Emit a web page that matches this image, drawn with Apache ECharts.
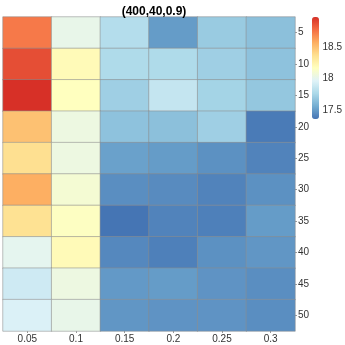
<!DOCTYPE html>
<html>
<head>
<meta charset="utf-8">
<script src="https://cdn.jsdelivr.net/npm/echarts@6/dist/echarts.min.js"></script>
<style>
html, body { margin: 0; padding: 0; background: #fff; }
#panel { width: 345px; height: 345px; }
</style>
</head>
<body>
<div id="panel"></div>
<script>
var xLabels = ['0.05', '0.1', '0.15', '0.2', '0.25', '0.3'];
var yLabels = ['5', '10', '15', '20', '25', '30', '35', '40', '45', '50'];
// one row per y label, one value per x label
var row5  = [18.74, 18.02, 17.80, 17.50, 17.70, 17.65];
var row10 = [18.88, 18.20, 17.78, 17.78, 17.72, 17.66];
var row15 = [18.98, 18.17, 17.72, 17.86, 17.74, 17.68];
var row20 = [18.50, 18.05, 17.66, 17.65, 17.72, 17.38];
var row25 = [18.37, 18.05, 17.52, 17.50, 17.46, 17.41];
var row30 = [18.57, 18.10, 17.45, 17.44, 17.41, 17.46];
var row35 = [18.36, 18.16, 17.36, 17.41, 17.40, 17.50];
var row40 = [18.00, 18.20, 17.43, 17.40, 17.46, 17.48];
var row45 = [17.90, 18.05, 17.49, 17.50, 17.47, 17.45];
var row50 = [17.95, 18.02, 17.48, 17.47, 17.47, 17.45];
var legendTicks = [17.5, 18, 18.5];
var vMin = 17.36, vMax = 18.98;

var rows = [row5, row10, row15, row20, row25, row30, row35, row40, row45, row50];
var cells = [];
rows.forEach(function (r, yi) {
    r.forEach(function (v, xi) { cells.push([xi, yi, v]); });
});

var palette = ['#4575b4', '#74add1', '#abd9e9', '#e0f3f8', '#ffffbf',
               '#fee090', '#fdae61', '#f46d43', '#d73027'];
var font = 'Liberation Sans';

var myChart = echarts.init(document.getElementById('panel'));
myChart.setOption({
    backgroundColor: '#fff',
    animation: false,
    title: {
        text: '(400,40,0.9)',
        left: 149, top: 1, textAlign: 'center',
        textStyle: { fontFamily: font, fontSize: 12, fontWeight: 'bold', color: '#000' }
    },
    grid: [
        { left: 3, top: 17, width: 292, height: 314 },
        { left: 312, top: 17, width: 7, height: 102 }
    ],
    xAxis: [{
        type: 'category', data: xLabels, gridIndex: 0,
        axisLine: { show: false },
        axisTick: { show: true, length: 2, alignWithLabel: true, lineStyle: { color: '#999' } },
        axisLabel: { fontFamily: font, fontSize: 10, color: '#333', margin: 3 },
        splitLine: { show: false }
    }, {
        type: 'value', gridIndex: 1, show: false
    }],
    yAxis: [{
        type: 'category', data: yLabels, inverse: true, position: 'right', gridIndex: 0,
        axisLine: { show: false },
        axisTick: { show: true, length: 2, alignWithLabel: true, lineStyle: { color: '#999' } },
        axisLabel: { fontFamily: font, fontSize: 10, color: '#333', margin: 3 },
        splitLine: { show: false }
    }, {
        type: 'value', gridIndex: 1, position: 'right', min: vMin, max: vMax,
        axisLine: { show: false },
        axisTick: { show: false },
        splitLine: { show: false },
        axisLabel: { customValues: legendTicks, fontFamily: font, fontSize: 10, color: '#333', margin: 4 }
    }],
    visualMap: {
        type: 'continuous', min: vMin, max: vMax, seriesIndex: 0,
        left: 312, top: 17, itemWidth: 7, itemHeight: 102, padding: 0,
        text: null, showLabel: false, calculable: false, realtime: false,
        inRange: { color: palette }
    },
    series: [{
        type: 'heatmap', xAxisIndex: 0, yAxisIndex: 0,
        data: cells,
        itemStyle: { borderColor: 'rgba(140,140,140,0.55)', borderWidth: 1 },
        emphasis: { disabled: true }
    }]
});
</script>
</body>
</html>
